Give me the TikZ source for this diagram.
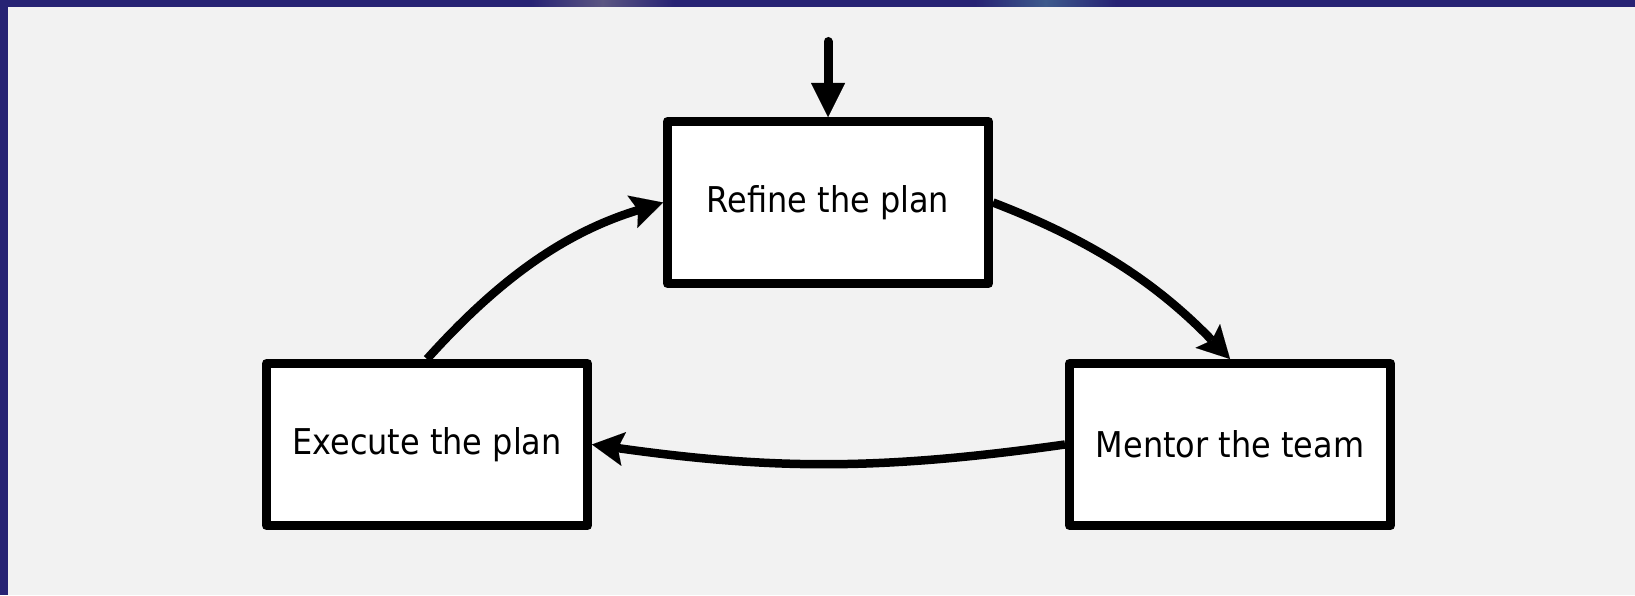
\documentclass[tikz,border=0pt]{standalone}
\usepackage{fontspec}
\setmainfont[FakeStretch=0.9]{DejaVu Sans}
\usetikzlibrary{arrows.meta}
\definecolor{bg}{HTML}{F2F2F2}
\definecolor{framecol}{HTML}{272374}
\definecolor{glowA}{HTML}{5B5682}
\definecolor{glowB}{HTML}{3D5A8C}
\begin{document}
\begin{tikzpicture}[x=1pt,y=1pt,
  stepbox/.style={draw=black, fill=white, line width=9pt, line join=round,
    minimum width=321pt, minimum height=162pt, inner sep=0pt,
    font=\fontsize{35.5}{40}\selectfont},
  flow/.style={line width=8.5pt,
    -{Stealth[length=32pt,width=34pt,inset=6pt,line width=0.01pt]}},
  entry/.style={line width=9pt, line cap=round,
    -{Triangle[length=34pt,width=34pt,line width=0.01pt]}}]
\useasboundingbox (0,0) rectangle (1635,595);
% background and frame
\fill[bg] (0,0) rectangle (1635,595);
\fill[framecol] (0,0) rectangle (8,595);
\fill[framecol] (0,588) rectangle (1635,595);
\shade[left color=framecol, right color=framecol, middle color=glowA] (531,588) rectangle (674,595);
\shade[left color=framecol, right color=framecol, middle color=glowB] (975,588) rectangle (1116,595);
% nodes
\node[stepbox] (refine) at (828,392.5) {\raisebox{-2pt}{Refine the plan}};
\node[stepbox] (exec) at (427,150.5) {\raisebox{-2pt}{Execute the plan}};
\node[stepbox] (mentor) at (1230,150.5) {Mentor the team};
\coordinate (start) at (828,553.5);
% connectors
\draw[entry] (start) -- (refine.north);
\draw[flow] (exec.north) to[out=48,in=197,looseness=0.95] (refine.west);
\draw[flow] (refine.east) to[out=-21,in=134,looseness=0.95] (mentor.north);
\draw[flow] (mentor.west) to[out=188,in=-8] (exec.east);
\end{tikzpicture}
\end{document}
